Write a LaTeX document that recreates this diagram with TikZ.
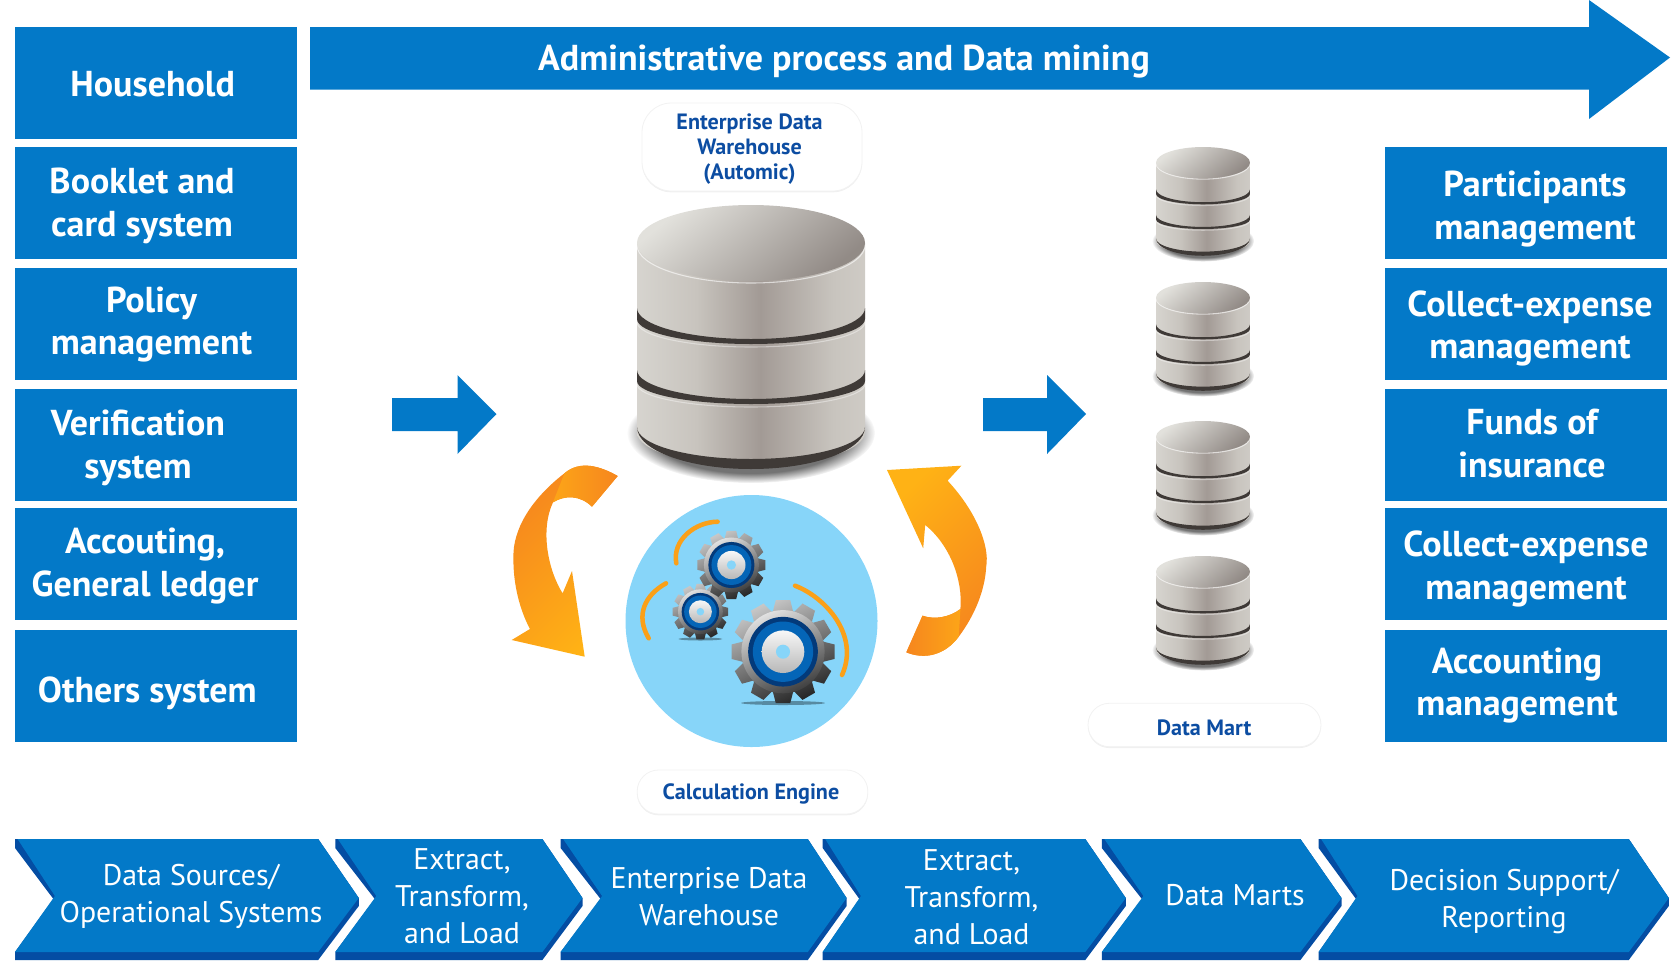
\documentclass[tikz,border=0pt]{standalone}
\usepackage{fontspec}
\setmainfont{PT Sans}
\usetikzlibrary{fadings,shadows}

\definecolor{bleu}{HTML}{0379C8}
\definecolor{bleufonce}{HTML}{044DA3}
\definecolor{marine}{HTML}{0C4DA2}
\definecolor{ciel}{HTML}{87D5F9}
\definecolor{orange1}{HTML}{F6861E}
\definecolor{orange2}{HTML}{FFB215}
\definecolor{gris1}{HTML}{E2E1DC}
\definecolor{gris2}{HTML}{C8C4BE}
\definecolor{gris3}{HTML}{A29A95}
\definecolor{gris4}{HTML}{DAD8D3}
\definecolor{anneau}{HTML}{3F3A37}
\pgfdeclarehorizontalshading{cuve}{100bp}{color(0bp)=(gris1);color(22bp)=(gris4);color(38bp)=(gris2);color(52bp)=(gris3);color(68bp)=(gris2);color(88bp)=(gris4);color(100bp)=(gris1)}

% une base de donnees
\newcommand{\basedonnees}[3]{
\begin{scope}[shift={(#1,#2)},scale=#3]
\fill[black,opacity=.55,path fading=circle with fuzzy edge 20 percent] (0,-228) ellipse [x radius=124,y radius=50];
\shade[shading=cuve] (-114,-38) -- (-114,-227) arc[start angle=180,end angle=360,x radius=114,y radius=34] -- (114,-38) -- cycle;
\draw[white,opacity=.6,line width=.8pt] (-114,-40) arc[start angle=180,end angle=360,x radius=114,y radius=38];
\draw[white,opacity=.4,line width=.8pt] (-114,-117) arc[start angle=180,end angle=360,x radius=114,y radius=25];
\draw[white,opacity=.4,line width=.8pt] (-114,-179) arc[start angle=180,end angle=360,x radius=114,y radius=23];
\fill[anneau] (-114,-103) arc[start angle=180,end angle=360,x radius=114,y radius=31] -- (114,-114) arc[start angle=0,end angle=-180,x radius=114,y radius=25] -- cycle;
\fill[anneau] (-114,-165) arc[start angle=180,end angle=360,x radius=114,y radius=29] -- (114,-176) arc[start angle=0,end angle=-180,x radius=114,y radius=23] -- cycle;
\fill[anneau] (-114,-222) arc[start angle=180,end angle=360,x radius=114,y radius=42] -- (114,-222) arc[start angle=0,end angle=-180,x radius=114,y radius=32] -- cycle;
\shade[top color=gris1,bottom color=gris3!90!black,shading angle=40] (0,-38) ellipse [x radius=114,y radius=38];
\end{scope}
}

% un engrenage
\newcommand{\engrenage}[3]{
\begin{scope}[shift={(#1,#2)},scale=#3]
\shade[top color=black!22,bottom color=black!85,shading angle=25] (-14:.8) \foreach \a in {0,30,...,330} {-- (\a-14:.8) -- (\a-8:1) -- (\a+8:1) -- (\a+14:.8)} -- cycle;
\shade[top color=black!12,bottom color=black!75,shading angle=25] (0,0) circle (.8);
\fill[bleufonce!75!black] (0,0) circle (.67);
\fill[bleu!55!bleufonce] (0,0) circle (.58);
\shade[top color=black!3,bottom color=black!28] (0,0) circle (.41);
\fill[ciel] (0,0) circle (.135);
\end{scope}
}

% une etape du bandeau du bas
\newcommand{\etape}[4]{
\fill[bleufonce] (#1,-839) -- (#3,-839) -- (#4,-898) -- (#4,-906) -- (#3,-960) -- (#1,-960) -- (#1,-952) -- (#2,-899) -- (#1,-848) -- cycle;
\fill[bleu] (#1+2.5,-839) -- (#3,-839) -- (#4,-898) -- (#3,-952) -- (#1,-952) -- (#2+1.5,-896) -- cycle;
}

\begin{document}
\begin{tikzpicture}[x=.75pt,y=.75pt]

% definition des styles
\tikzstyle{bloc}=[fill=bleu,inner sep=0pt,minimum width=211.5pt,minimum height=84pt]
\tikzstyle{bloctexte}=[text=white,align=center,inner sep=0pt,font=\bfseries\fontsize{27}{32}\selectfont]
\tikzstyle{etapetexte}=[text=white,align=center,inner sep=0pt,font=\fontsize{22.4}{27.8}\selectfont]
\tikzstyle{bulle}=[fill=white,draw=black!5,line width=.6pt,drop shadow={opacity=.12,shadow xshift=0pt,shadow yshift=-1pt},inner sep=0pt]
\tikzstyle{bulletexte}=[text=marine,align=center,inner sep=0pt,font=\bfseries\fontsize{16.6}{18.75}\selectfont]
\tikzstyle{arcorange}=[orange2!60!orange1,line width=3.4pt,line cap=round]

\useasboundingbox (0,0) rectangle (1674,-972);

% les blocs de gauche
\node [bloc] (household) at (156,-82.5){};
\node [bloc] (booklet) at (156,-203){};
\node [bloc] (policy) at (156,-324){};
\node [bloc] (verification) at (156,-444.5){};
\node [bloc] (accouting) at (156,-563.5){};
\node [bloc] (others) at (156,-685.5){};
\node [bloctexte] (householdt) at (152.7,-84.5){Household};
\node [bloctexte] (booklett) at (142,-206){Booklet and\\card system};
\node [bloctexte] (policyt) at (151.6,-324.5){Policy\\management};
\node [bloctexte] (verificationt) at (138,-448){Verification\\system};
\node [bloctexte] (accoutingt) at (145,-566){Accouting,\\General ledger};
\node [bloctexte] (otherst) at (147.3,-693){Others system};

% les blocs de droite
\node [bloc] (participants) at (1526,-203){};
\node [bloc] (collecta) at (1526,-324){};
\node [bloc] (funds) at (1526,-444.5){};
\node [bloc] (collectb) at (1526,-563.5){};
\node [bloc] (accounting) at (1526,-685.5){};
\node [bloctexte] (participantst) at (1535,-209){Participants\\management};
\node [bloctexte] (collectat) at (1530,-328.5){Collect-expense\\management};
\node [bloctexte] (fundst) at (1532,-443.5){Funds of\\insurance};
\node [bloctexte] (collectbt) at (1526,-569){Collect-expense\\management};
\node [bloctexte] (accountingt) at (1517,-685.5){Accounting\\management};

% les fleches bleues
\fill[bleu] (310,-27) -- (1589,-27) -- (1589,0) -- (1670,-57.5) -- (1589,-119) -- (1589,-89.5) -- (310,-89.5) -- cycle;
\node [bloctexte] (admin) at (844,-62){Administrative process and Data mining};
\fill[bleu] (392,-398) -- (457.5,-398) -- (457.5,-375) -- (496.5,-414) -- (457.5,-454) -- (457.5,-431) -- (392,-431) -- cycle;
\fill[bleu] (983,-398) -- (1047,-398) -- (1047,-375) -- (1086,-414) -- (1047,-454) -- (1047,-431) -- (983,-431) -- cycle;

% les bases de donnees
\basedonnees{751}{-205}{1}
\basedonnees{1203}{-147}{.412}
\basedonnees{1203}{-282}{.412}
\basedonnees{1203}{-421}{.412}
\basedonnees{1203}{-556}{.412}

% les bulles
\node [bulle,minimum width=165pt,minimum height=66pt,rounded corners=22pt] (edw) at (752,-147){};
\node [bulle,minimum width=174.7pt,minimum height=32.6pt,rounded corners=16pt] (mart) at (1204.5,-725){};
\node [bulle,minimum width=173pt,minimum height=33pt,rounded corners=16pt] (calcul) at (752.5,-792){};
\node [bulletexte] (edwt) at (749.5,-149){Enterprise Data\\Warehouse\\(Automic)};
\node [bulletexte] (martt) at (1204,-727.5){Data Mart};
\node [bulletexte] (calcult) at (751,-793.5){Calculation Engine};

% le moteur de calcul
\fill[ciel] (751.5,-621) circle (126);
\draw[arcorange] (795,-585.7) .. controls (825,-597) and (860,-635) .. (842,-675);
\draw[arcorange] (717.6,-521.7) .. controls (695,-522) and (672,-540) .. (676.3,-563.3);
\draw[arcorange] (666,-583.3) .. controls (645,-595) and (635,-615) .. (648.7,-638.3);
\fill[black,opacity=.35] (783,-703) ellipse [x radius=42,y radius=2];
\fill[black,opacity=.35] (700.4,-639) ellipse [x radius=22,y radius=1.5];
\engrenage{700.4}{-611.7}{28}
\engrenage{731.4}{-565}{34.4}
\engrenage{783}{-651.7}{52}

% les fleches orange
\shade[top color=orange1,bottom color=orange2,shading angle=45] (617.7,-476) .. controls (600,-466) and (580,-460) .. (564.4,-473.3) .. controls (530,-500) and (513,-530) .. (513.4,-556.7) .. controls (513,-585) and (520,-610) .. (529.9,-629) -- (511.7,-640) -- (584.7,-656.7) -- (572,-571) -- (562.6,-593.3) .. controls (548,-570) and (540,-530) .. (553,-502.3) .. controls (565,-495) and (580,-495) .. (592,-506.7) -- cycle;
\shade[left color=orange2!70!orange1,right color=orange1] (617.7,-476) .. controls (600,-466) and (580,-460) .. (564.4,-473.3) -- (553,-502.3) .. controls (565,-495) and (580,-495) .. (592,-506.7) -- cycle;
\shade[top color=orange2,bottom color=orange1,shading angle=45] (887,-470) -- (961.4,-465.7) -- (947.6,-480.7) .. controls (975,-510) and (990,-545) .. (986.2,-566.7) .. controls (985,-590) and (975,-615) .. (958.7,-636.7) .. controls (945,-655) and (925,-660) .. (906.3,-652.3) -- (922.5,-615.7) .. controls (935,-620) and (950,-617) .. (960.4,-609) .. controls (963,-580) and (950,-545) .. (925.2,-525) -- (923.2,-548.3) -- cycle;
\shade[left color=orange1,right color=orange2!70!orange1] (960.4,-609) -- (958.7,-636.7) .. controls (945,-655) and (925,-660) .. (906.3,-652.3) -- (922.5,-615.7) .. controls (935,-620) and (950,-617) .. (960.4,-609) -- cycle;

% le bandeau du bas
\etape{15}{53.4}{318.2}{358.8}
\etape{335.3}{374.8}{542.4}{582.5}
\etape{560.6}{600.6}{807.8}{846.6}
\etape{822.7}{859.4}{1085.3}{1125.8}
\etape{1101.8}{1141.9}{1300.4}{1341.5}
\etape{1318.6}{1356}{1628.8}{1668.8}
\node [etapetexte] (sources) at (191,-896.5){Data Sources/\\Operational Systems};
\node [etapetexte] (etla) at (462,-896){Extract,\\Transform,\\and Load};
\node [etapetexte] (warehouse) at (709,-896.5){Enterprise Data\\Warehouse};
\node [etapetexte] (etlb) at (971.5,-897){Extract,\\Transform,\\and Load};
\node [etapetexte] (marts) at (1235,-894.6){Data Marts};
\node [etapetexte] (decision) at (1504,-901.5){Decision Support/\\Reporting};

\end{tikzpicture}
\end{document}
